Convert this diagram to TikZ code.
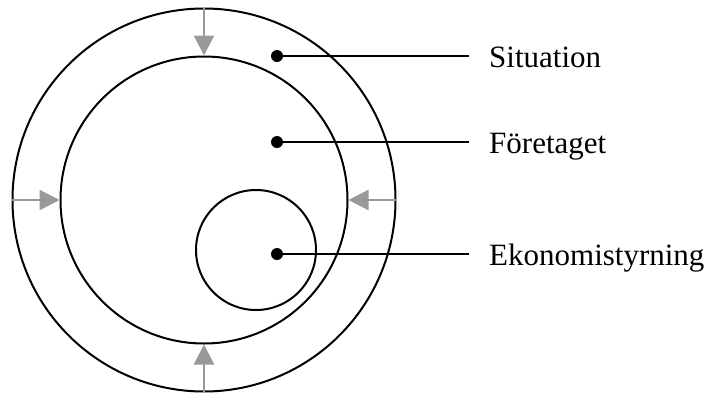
\documentclass[tikz,border=0pt]{standalone}
\usepackage{fontspec}
\setmainfont{Liberation Serif}
\usetikzlibrary{arrows.meta}
\begin{document}
\begin{tikzpicture}[x=1pt,y=-1pt,
  ring/.style={circle,draw=black,line width=2pt,inner sep=0pt},
  dotnode/.style={circle,fill=black,inner sep=0pt,minimum size=12pt},
  pressarrow/.style={draw=arrowgray,line width=2.2pt,-{Triangle[length=20pt,width=20pt,fill=arrowgray]}},
  leader/.style={draw=black,line width=2pt},
  lbl/.style={anchor=base west,inner sep=0pt,font=\fontsize{31}{36}\selectfont}]
\definecolor{arrowgray}{HTML}{999999}
\useasboundingbox (0,0) rectangle (710,392);
\node[ring,minimum size=383pt] (outer) at (204,200) {};
\node[ring,minimum size=287pt] (inner) at (204,200) {};
\node[ring,minimum size=120pt] (small) at (256,250) {};
% pressure arrows
\draw[pressarrow] (outer.north) -- (inner.north);
\draw[pressarrow] (outer.west) -- (inner.west);
\draw[pressarrow] (outer.east) -- (inner.east);
\draw[pressarrow] (outer.south) -- (inner.south);
% dots, leaders, labels
\node[dotnode] (d1) at (277,56) {};
\node[dotnode] (d2) at (277,142) {};
\node[dotnode] (d3) at (277,254) {};
\coordinate (e1) at (469,56);
\coordinate (e2) at (469,142);
\coordinate (e3) at (469,254);
\draw[leader] (d1.center) -- (e1);
\draw[leader] (d2.center) -- (e2);
\draw[leader] (d3.center) -- (e3);
\node[lbl] (l1) at (489,67) {Situation};
\node[lbl] (l2) at (489,153) {Företaget};
\node[lbl] (l3) at (489,265) {Ekonomistyrning};
\end{tikzpicture}
\end{document}
